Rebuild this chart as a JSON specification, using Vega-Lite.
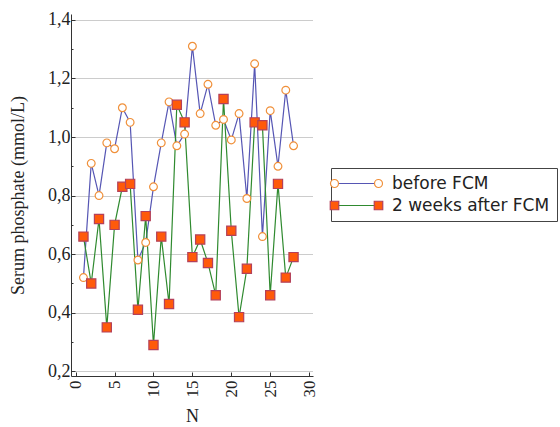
{
  "$schema": "https://vega.github.io/schema/vega-lite/v6.json",
  "autosize": {"type": "none"},
  "padding": {"left": 71, "top": 14, "right": 247, "bottom": 51},
  "width": 242,
  "height": 362,
  "background": "white",
  "config": {"view": {"stroke": null}},
  "data": {"values": [
    {"N": 1, "value": 0.52, "series": "before FCM"},
    {"N": 2, "value": 0.91, "series": "before FCM"},
    {"N": 3, "value": 0.80, "series": "before FCM"},
    {"N": 4, "value": 0.98, "series": "before FCM"},
    {"N": 5, "value": 0.96, "series": "before FCM"},
    {"N": 6, "value": 1.10, "series": "before FCM"},
    {"N": 7, "value": 1.05, "series": "before FCM"},
    {"N": 8, "value": 0.58, "series": "before FCM"},
    {"N": 9, "value": 0.64, "series": "before FCM"},
    {"N": 10, "value": 0.83, "series": "before FCM"},
    {"N": 11, "value": 0.98, "series": "before FCM"},
    {"N": 12, "value": 1.12, "series": "before FCM"},
    {"N": 13, "value": 0.97, "series": "before FCM"},
    {"N": 14, "value": 1.01, "series": "before FCM"},
    {"N": 15, "value": 1.31, "series": "before FCM"},
    {"N": 16, "value": 1.08, "series": "before FCM"},
    {"N": 17, "value": 1.18, "series": "before FCM"},
    {"N": 18, "value": 1.04, "series": "before FCM"},
    {"N": 19, "value": 1.06, "series": "before FCM"},
    {"N": 20, "value": 0.99, "series": "before FCM"},
    {"N": 21, "value": 1.08, "series": "before FCM"},
    {"N": 22, "value": 0.79, "series": "before FCM"},
    {"N": 23, "value": 1.25, "series": "before FCM"},
    {"N": 24, "value": 0.66, "series": "before FCM"},
    {"N": 25, "value": 1.09, "series": "before FCM"},
    {"N": 26, "value": 0.90, "series": "before FCM"},
    {"N": 27, "value": 1.16, "series": "before FCM"},
    {"N": 28, "value": 0.97, "series": "before FCM"},
    {"N": 1, "value": 0.66, "series": "2 weeks after FCM"},
    {"N": 2, "value": 0.50, "series": "2 weeks after FCM"},
    {"N": 3, "value": 0.72, "series": "2 weeks after FCM"},
    {"N": 4, "value": 0.35, "series": "2 weeks after FCM"},
    {"N": 5, "value": 0.70, "series": "2 weeks after FCM"},
    {"N": 6, "value": 0.83, "series": "2 weeks after FCM"},
    {"N": 7, "value": 0.84, "series": "2 weeks after FCM"},
    {"N": 8, "value": 0.41, "series": "2 weeks after FCM"},
    {"N": 9, "value": 0.73, "series": "2 weeks after FCM"},
    {"N": 10, "value": 0.29, "series": "2 weeks after FCM"},
    {"N": 11, "value": 0.66, "series": "2 weeks after FCM"},
    {"N": 12, "value": 0.43, "series": "2 weeks after FCM"},
    {"N": 13, "value": 1.11, "series": "2 weeks after FCM"},
    {"N": 14, "value": 1.05, "series": "2 weeks after FCM"},
    {"N": 15, "value": 0.59, "series": "2 weeks after FCM"},
    {"N": 16, "value": 0.65, "series": "2 weeks after FCM"},
    {"N": 17, "value": 0.57, "series": "2 weeks after FCM"},
    {"N": 18, "value": 0.46, "series": "2 weeks after FCM"},
    {"N": 19, "value": 1.13, "series": "2 weeks after FCM"},
    {"N": 20, "value": 0.68, "series": "2 weeks after FCM"},
    {"N": 21, "value": 0.385, "series": "2 weeks after FCM"},
    {"N": 22, "value": 0.55, "series": "2 weeks after FCM"},
    {"N": 23, "value": 1.05, "series": "2 weeks after FCM"},
    {"N": 24, "value": 1.04, "series": "2 weeks after FCM"},
    {"N": 25, "value": 0.46, "series": "2 weeks after FCM"},
    {"N": 26, "value": 0.84, "series": "2 weeks after FCM"},
    {"N": 27, "value": 0.52, "series": "2 weeks after FCM"},
    {"N": 28, "value": 0.59, "series": "2 weeks after FCM"}
  ]},
  "encoding": {
    "x": {
      "field": "N", "type": "quantitative",
      "scale": {"domain": [-0.6, 30.5], "nice": false, "zero": false},
      "axis": {
        "title": "N",
        "titleFont": "Liberation Serif", "titleFontSize": 18, "titleFontWeight": "normal", "titleColor": "#222",
        "titlePadding": 10,
        "values": [0, 5, 10, 15, 20, 25, 30],
        "labelAngle": 270,
        "labelFont": "Liberation Serif", "labelFontSize": 17, "labelColor": "#222",
        "labelPadding": 8,
        "tickSize": -4, "tickColor": "#333", "tickWidth": 1,
        "domainColor": "#333", "domainWidth": 1,
        "grid": false
      }
    },
    "y": {
      "field": "value", "type": "quantitative",
      "scale": {"domain": [0.184, 1.42], "nice": false, "zero": false},
      "axis": {
        "title": "Serum phosphate (mmol/L)",
        "titleFont": "Liberation Serif", "titleFontSize": 18, "titleFontWeight": "normal", "titleColor": "#222",
        "titlePadding": 20,
        "values": [0.2, 0.3, 0.4, 0.5, 0.6, 0.7, 0.8, 0.9, 1.0, 1.1, 1.2, 1.3, 1.4],
        "labelExpr": "round(datum.value*10) % 2 === 0 ? replace(format(datum.value, '.1f'), '.', ',') : ''",
        "labelFont": "Liberation Serif", "labelFontSize": 18, "labelColor": "#222",
        "labelPadding": 5,
        "tickSize": {"condition": {"test": "round(datum.value*10) % 2 === 0", "value": -4}, "value": -2},
        "tickColor": "#333", "tickWidth": 1,
        "domainColor": "#333", "domainWidth": 1,
        "grid": true,
        "gridColor": "#999", "gridDash": [1, 1], "gridWidth": 1,
        "gridOpacity": {"condition": {"test": "round(datum.value*10) % 2 === 0", "value": 1}, "value": 0}
      }
    }
  },
  "resolve": {"scale": {"stroke": "independent", "fill": "independent", "shape": "independent"}},
  "layer": [
    {
      "mark": {"type": "line", "strokeWidth": 1.2},
      "encoding": {
        "stroke": {
          "field": "series", "type": "nominal",
          "scale": {"domain": ["before FCM", "2 weeks after FCM"], "range": ["#5656b4", "#2f8a2f"]},
          "legend": {
            "title": null,
            "orient": "none", "legendX": 260, "legendY": 154,
            "symbolType": "M-2.4,0L6.4,0", "symbolSize": 100, "symbolStrokeWidth": 1.2,
            "labelFont": "DejaVu Sans", "labelFontSize": 17, "labelColor": "#222",
            "labelOffset": 37, "padding": 7, "rowPadding": 4,
            "strokeColor": "#444"
          }
        }
      }
    },
    {
      "mark": {"type": "point", "filled": true, "opacity": 1, "strokeWidth": 1.2},
      "encoding": {
        "shape": {"condition": {"test": "datum.series === 'before FCM'", "value": "circle"}, "value": "square"},
        "fill": {"condition": {"test": "datum.series === 'before FCM'", "value": "#ffffff"}, "value": "#ff5a0a"},
        "stroke": {"condition": {"test": "datum.series === 'before FCM'", "value": "#f0903a"}, "value": "#b4405a"},
        "size": {"condition": {"test": "datum.series === 'before FCM'", "value": 60}, "value": 85}
      }
    },
    {
      "transform": [{"filter": "datum.N < 0"}],
      "mark": {"type": "point", "filled": true, "opacity": 1, "strokeWidth": 1.2},
      "encoding": {
        "shape": {
          "field": "series", "type": "nominal",
          "scale": {"domain": ["before FCM", "2 weeks after FCM"], "range": [
            "M-3.2,0a0.8,0.8 0 1,0 1.6,0a0.8,0.8 0 1,0 -1.6,0M5.6,0a0.8,0.8 0 1,0 1.6,0a0.8,0.8 0 1,0 -1.6,0",
            "M-3.25,-0.85h1.7v1.7h-1.7zM5.55,-0.85h1.7v1.7h-1.7z"
          ]},
          "legend": {
            "title": null,
            "orient": "none", "legendX": 260, "legendY": 154,
            "symbolSize": 100, "symbolStrokeWidth": 1.2, "symbolOpacity": 1,
            "labelFont": "DejaVu Sans", "labelFontSize": 17, "labelColor": "rgba(0,0,0,0)",
            "labelOffset": 37, "padding": 7, "rowPadding": 4
          }
        },
        "fill": {
          "field": "series", "type": "nominal",
          "scale": {"domain": ["before FCM", "2 weeks after FCM"], "range": ["#ffffff", "#ff5a0a"]},
          "legend": {
            "title": null,
            "orient": "none", "legendX": 260, "legendY": 154,
            "symbolSize": 100, "symbolStrokeWidth": 1.2, "symbolOpacity": 1,
            "labelFont": "DejaVu Sans", "labelFontSize": 17, "labelColor": "rgba(0,0,0,0)",
            "labelOffset": 37, "padding": 7, "rowPadding": 4
          }
        },
        "stroke": {
          "field": "series", "type": "nominal",
          "scale": {"domain": ["before FCM", "2 weeks after FCM"], "range": ["#f0903a", "#b4405a"]},
          "legend": {
            "title": null,
            "orient": "none", "legendX": 260, "legendY": 154,
            "symbolSize": 100, "symbolStrokeWidth": 1.2, "symbolOpacity": 1,
            "labelFont": "DejaVu Sans", "labelFontSize": 17, "labelColor": "rgba(0,0,0,0)",
            "labelOffset": 37, "padding": 7, "rowPadding": 4
          }
        }
      }
    }
  ]
}
